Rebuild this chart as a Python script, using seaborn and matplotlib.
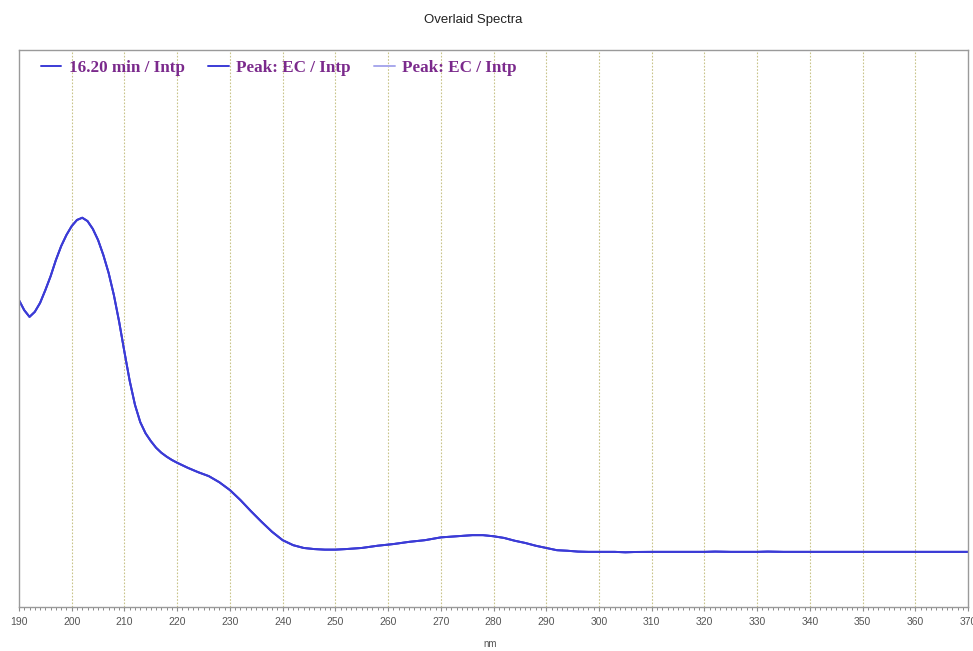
import numpy as np
import pandas as pd
import seaborn as sns
import matplotlib.pyplot as plt
from matplotlib.ticker import MultipleLocator

# Wavelength (nm) and absorbance (arbitrary units) of the overlaid spectra
wavelength = [190, 191, 192, 193, 194, 195, 196, 197, 198, 199,
              200, 201, 202, 203, 204, 205, 206, 207, 208, 209,
              210, 211, 212, 213, 214, 215, 216, 217, 218, 219,
              220, 222, 224, 226, 228, 230, 232, 234, 236, 238,
              240, 242, 244, 246, 248, 250, 252, 255, 258, 261,
              264, 267, 270, 273, 276, 278, 280, 282, 284, 286,
              288, 290, 292, 294, 296, 298, 300, 303, 305, 307,
              310, 315, 320, 322, 325, 330, 332, 335, 340, 350,
              360, 370]
absorbance = [55.1, 53.3, 52.1, 53.0, 54.6, 56.9, 59.4, 62.3, 64.8, 66.8,
              68.4, 69.5, 69.9, 69.3, 67.9, 65.9, 63.2, 60.0, 56.0, 51.2,
              45.8, 40.6, 36.3, 33.2, 31.2, 29.8, 28.6, 27.7, 27.0, 26.4,
              25.9, 25.0, 24.2, 23.5, 22.4, 21.0, 19.2, 17.2, 15.3, 13.5,
              12.0, 11.1, 10.6, 10.4, 10.3, 10.3, 10.4, 10.6, 11.0, 11.3,
              11.7, 12.0, 12.5, 12.7, 12.9, 12.9, 12.7, 12.4, 11.9, 11.5,
              11.0, 10.6, 10.2, 10.1, 9.95, 9.9, 9.9, 9.9, 9.82, 9.88,
              9.9, 9.9, 9.9, 9.95, 9.9, 9.9, 9.95, 9.9, 9.9, 9.9,
              9.9, 9.9]

series_labels = ["16.20 min / Intp", "Peak: EC / Intp", "Peak: EC / Intp"]
series_colors = ["#3b3bd6", "#3b3bd6", "#a8a8ec"]
x_ticks = list(range(190, 371, 10))

sns.set_style("white")
plt.rcParams["font.family"] = ["Liberation Sans", "DejaVu Sans"]

fig = plt.figure(figsize=(9.73, 6.51), dpi=100)
ax = fig.add_axes([0.0195, 0.0676, 0.9755, 0.8554])

df = pd.DataFrame({"nm": wavelength, "abs": absorbance})
# Draw the spectra in reverse so the first series sits on top
for label, color in reversed(list(zip(series_labels, series_colors))):
    sns.lineplot(data=df, x="nm", y="abs", ax=ax, color=color,
                 linewidth=1.4, label=label, legend=False)

ax.set_xlim(190, 370)
ax.set_ylim(0, 100)
ax.set_xticks(x_ticks)
ax.xaxis.set_minor_locator(MultipleLocator(1))
ax.set_yticks([])
ax.set_ylabel("")
ax.set_xlabel("")

for x in x_ticks[1:-1]:
    ax.axvline(x, color="#c9c48a", linestyle=(0, (1.5, 1.5)), linewidth=0.8, zorder=0)

for side in ["left", "right", "top", "bottom"]:
    ax.spines[side].set_color("#9a9a9a")
    ax.spines[side].set_linewidth(1.0)

ax.tick_params(axis="x", which="both", bottom=True)
ax.tick_params(axis="x", which="major", length=3, width=0.8, color="#8a8a8a",
               labelsize=7.5, labelcolor="#555555", pad=4, direction="out")
ax.tick_params(axis="x", which="minor", length=2, width=0.7, color="#8a8a8a",
               direction="out")

fig.text(0.5035, 0.003, "nm", ha="center", va="bottom", fontsize=7, color="#555555")
fig.text(0.486, 0.969, "Overlaid Spectra", ha="center", va="center",
         fontsize=9.5, color="#222222")

# Legend row across the top of the plot area
handles = [plt.Line2D([], [], color=c, linewidth=1.4) for c in series_colors]
leg = ax.legend(handles, series_labels, loc="upper left", ncol=3, frameon=False,
                bbox_to_anchor=(0.007, 1.01), handlelength=1.2, handletextpad=0.45,
                columnspacing=1.35,
                prop={"family": ["Liberation Serif", "DejaVu Serif"],
                      "weight": "bold", "size": 12.3})
for t in leg.get_texts():
    t.set_color("#7b2a8c")

fig.savefig("out.png", dpi=100, facecolor="white")
